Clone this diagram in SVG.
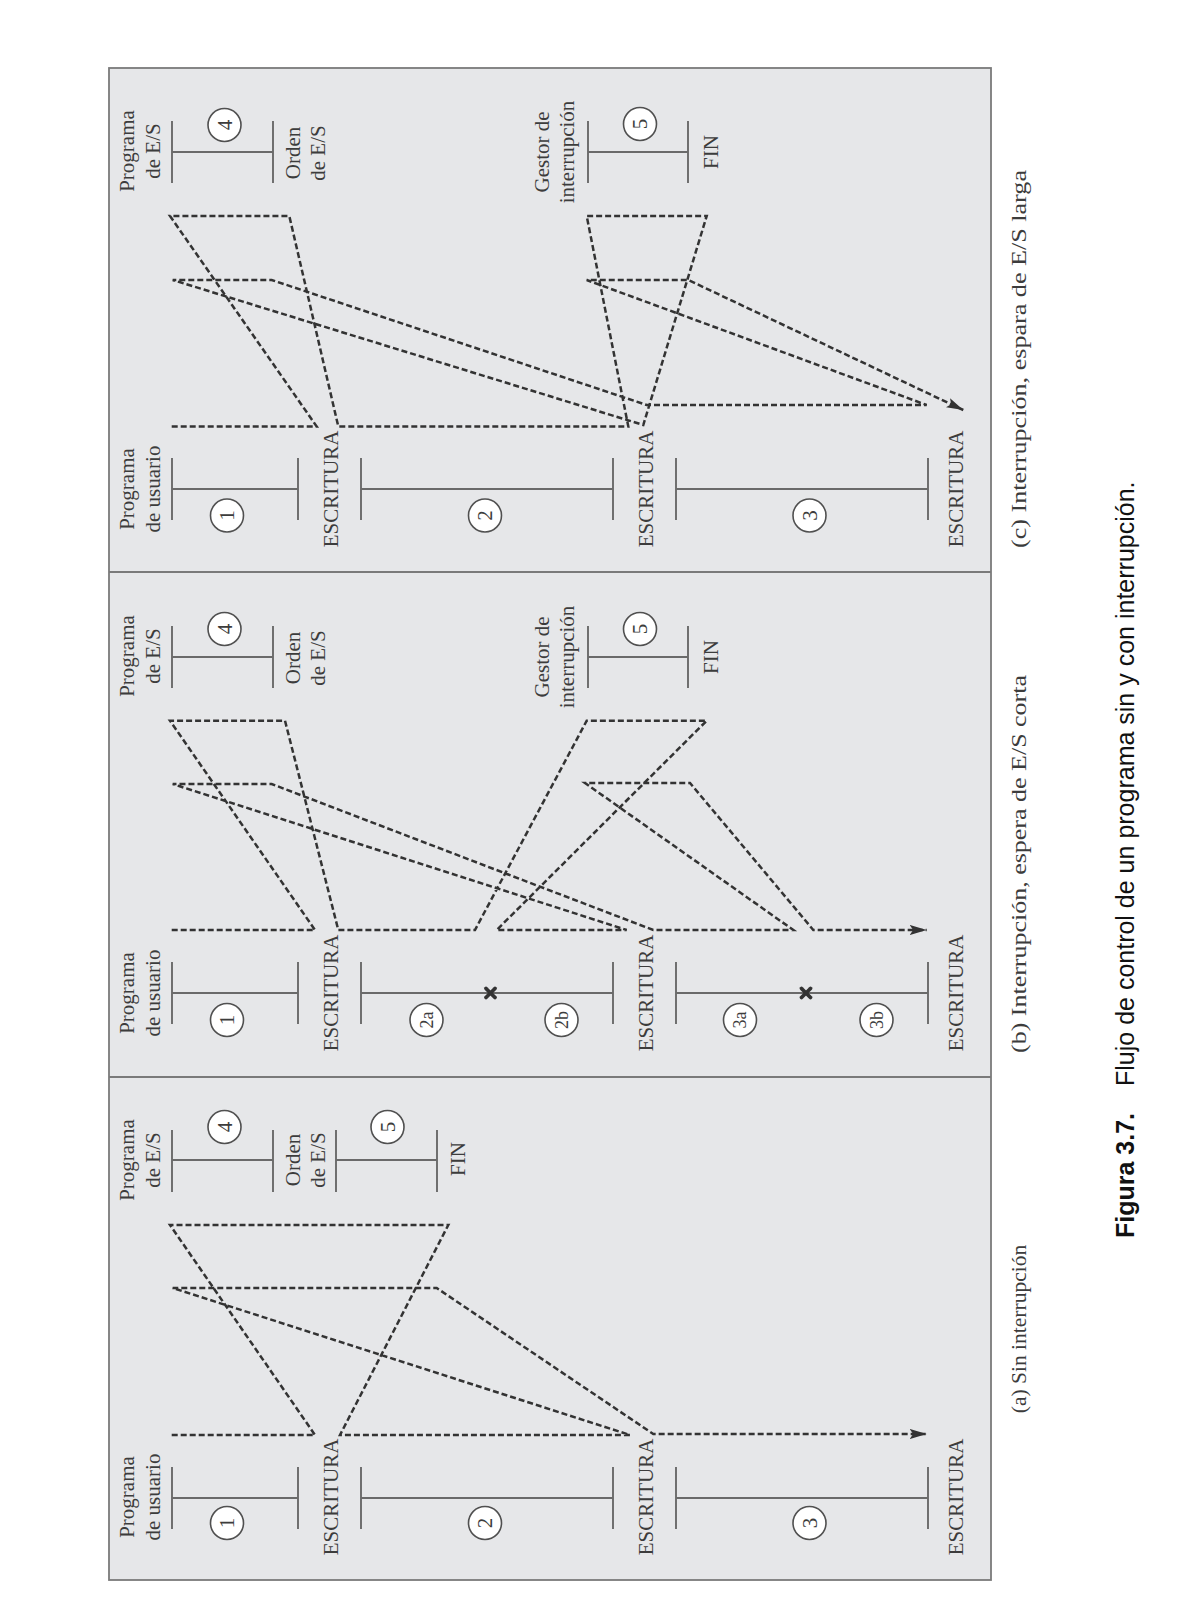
<svg xmlns="http://www.w3.org/2000/svg" width="1201" height="1600" viewBox="0 0 1201 1600">
<defs>
<style>
.frame{fill:#e6e7e9;stroke:#7a7a7a;stroke-width:1.8}
.div{stroke:#7a7a7a;stroke-width:1.8;fill:none}
.tl{stroke:#6a6a6a;stroke-width:1.9;fill:none}
.flow{stroke:#333;stroke-width:2.5;fill:none;stroke-dasharray:6 3;stroke-linejoin:miter}
.circ{fill:#fff;stroke:#505050;stroke-width:1.6}
.lbl{font-family:"Liberation Serif","Times New Roman",serif;font-size:21px;fill:#3c3c3c;text-anchor:middle}
.num{font-family:"Liberation Serif","Times New Roman",serif;font-size:21px;fill:#3c3c3c;text-anchor:middle;dominant-baseline:central}
.num2{font-family:"Liberation Serif","Times New Roman",serif;font-size:18px;fill:#3c3c3c;text-anchor:middle;dominant-baseline:central}
.cap{font-family:"Liberation Serif","Times New Roman",serif;font-size:21.5px;fill:#3c3c3c}
.fig{font-family:"Liberation Sans",Arial,sans-serif;font-size:25px;fill:#111}
.xm{stroke:#333;stroke-width:3.8;stroke-linecap:round}
</style>
<marker id="arr" markerUnits="userSpaceOnUse" markerWidth="18" markerHeight="12" refX="17" refY="6" orient="auto">
<path d="M0,1 L17,6 L0,11 L3.5,6 z" fill="#333"/>
</marker>
</defs>

<rect class="frame" x="109" y="68" width="882" height="1512"/>
<line class="div" x1="109" y1="572" x2="991" y2="572"/>
<line class="div" x1="109" y1="1077" x2="991" y2="1077"/>

<!-- ===== Panel (a) ===== -->
<g id="a-user1">
<path class="tl" d="M172 1467V1529M172 1498H298M298 1467V1529"/>
<circle class="circ" cx="227" cy="1523" r="16.5"/>
<text class="num" transform="translate(227,1523) rotate(-90)">1</text>
<text class="lbl" transform="translate(134,1497) rotate(-90)">Programa</text>
<text class="lbl" transform="translate(160,1497) rotate(-90)">de usuario</text>
<text class="lbl" transform="translate(338,1497) rotate(-90)">ESCRITURA</text>
</g>
<g id="a-user2">
<path class="tl" d="M361 1467V1529M361 1498H613M613 1467V1529"/>
<circle class="circ" cx="485" cy="1523" r="16.5"/>
<text class="num" transform="translate(485,1523) rotate(-90)">2</text>
<text class="lbl" transform="translate(653,1497) rotate(-90)">ESCRITURA</text>
</g>
<g id="a-user3">
<path class="tl" d="M676 1467V1529M676 1498H928M928 1467V1529"/>
<circle class="circ" cx="809.5" cy="1523" r="16.5"/>
<text class="num" transform="translate(809.5,1523) rotate(-90)">3</text>
<text class="lbl" transform="translate(963,1497) rotate(-90)">ESCRITURA</text>
</g>
<g id="a-io4">
<path class="tl" d="M172 1130V1192M172 1160H273M273 1130V1192"/>
<circle class="circ" cx="224.5" cy="1127" r="16.5"/>
<text class="num" transform="translate(224.5,1127) rotate(-90)">4</text>
<text class="lbl" transform="translate(134,1160) rotate(-90)">Programa</text>
<text class="lbl" transform="translate(160,1160) rotate(-90)">de E/S</text>
<text class="lbl" transform="translate(299.5,1160) rotate(-90)">Orden</text>
<text class="lbl" transform="translate(324.5,1160) rotate(-90)">de E/S</text>
</g>
<g id="a-io5">
<path class="tl" d="M336 1130V1192M336 1160H437M437 1130V1192"/>
<circle class="circ" cx="387.5" cy="1127" r="16.5"/>
<text class="num" transform="translate(387.5,1127) rotate(-90)">5</text>
<text class="lbl" transform="translate(465,1159) rotate(-90)">FIN</text>
</g>
<text class="cap" text-anchor="middle" transform="translate(1026,1329) rotate(-90)">(a) Sin interrupción</text>

<!-- ===== Panel (b) ===== -->
<g id="b-user1">
<path class="tl" d="M172 962V1024M172 993H298M298 962V1024"/>
<circle class="circ" cx="227" cy="1020" r="16.5"/>
<text class="num" transform="translate(227,1020) rotate(-90)">1</text>
<text class="lbl" transform="translate(134,993) rotate(-90)">Programa</text>
<text class="lbl" transform="translate(160,993) rotate(-90)">de usuario</text>
<text class="lbl" transform="translate(338,993) rotate(-90)">ESCRITURA</text>
</g>
<g id="b-user2">
<path class="tl" d="M361 962V1024M361 993H613M613 962V1024"/>
<g class="xm"><line x1="486" y1="988.5" x2="495" y2="997.5"/><line x1="486" y1="997.5" x2="495" y2="988.5"/></g>
<circle class="circ" cx="426.5" cy="1020" r="16.5"/>
<text class="num2" transform="translate(426.5,1020) rotate(-90)">2a</text>
<circle class="circ" cx="561.5" cy="1020" r="16.5"/>
<text class="num2" transform="translate(561.5,1020) rotate(-90)">2b</text>
<text class="lbl" transform="translate(653,993) rotate(-90)">ESCRITURA</text>
</g>
<g id="b-user3">
<path class="tl" d="M676 962V1024M676 993H928M928 962V1024"/>
<g class="xm"><line x1="801.5" y1="988.5" x2="810.5" y2="997.5"/><line x1="801.5" y1="997.5" x2="810.5" y2="988.5"/></g>
<circle class="circ" cx="740" cy="1020" r="16.5"/>
<text class="num2" transform="translate(740,1020) rotate(-90)">3a</text>
<circle class="circ" cx="876.5" cy="1020" r="16.5"/>
<text class="num2" transform="translate(876.5,1020) rotate(-90)">3b</text>
<text class="lbl" transform="translate(963,993) rotate(-90)">ESCRITURA</text>
</g>
<g id="b-io4">
<path class="tl" d="M172 626V688M172 657H273M273 626V688"/>
<circle class="circ" cx="224.5" cy="629" r="16.5"/>
<text class="num" transform="translate(224.5,629) rotate(-90)">4</text>
<text class="lbl" transform="translate(134,656) rotate(-90)">Programa</text>
<text class="lbl" transform="translate(160,656) rotate(-90)">de E/S</text>
<text class="lbl" transform="translate(299.5,658) rotate(-90)">Orden</text>
<text class="lbl" transform="translate(324.5,658) rotate(-90)">de E/S</text>
</g>
<g id="b-handler5">
<path class="tl" d="M588 626V688M588 657H688M688 626V688"/>
<circle class="circ" cx="640" cy="629" r="16.5"/>
<text class="num" transform="translate(640,629) rotate(-90)">5</text>
<text class="lbl" transform="translate(549,657) rotate(-90)">Gestor de</text>
<text class="lbl" transform="translate(573.5,657) rotate(-90)">interrupción</text>
<text class="lbl" transform="translate(718,657) rotate(-90)">FIN</text>
</g>
<text class="cap" text-anchor="start" textLength="378" lengthAdjust="spacingAndGlyphs" transform="translate(1026,1053) rotate(-90)">(b) Interrupción, espera de E/S corta</text>

<!-- ===== Panel (c) ===== -->
<g id="c-user1">
<path class="tl" d="M172 458V520M172 489H298M298 458V520"/>
<circle class="circ" cx="227" cy="515.5" r="16.5"/>
<text class="num" transform="translate(227,515.5) rotate(-90)">1</text>
<text class="lbl" transform="translate(134,489) rotate(-90)">Programa</text>
<text class="lbl" transform="translate(160,489) rotate(-90)">de usuario</text>
<text class="lbl" transform="translate(338,489) rotate(-90)">ESCRITURA</text>
</g>
<g id="c-user2">
<path class="tl" d="M361 458V520M361 489H613M613 458V520"/>
<circle class="circ" cx="485" cy="515.5" r="16.5"/>
<text class="num" transform="translate(485,515.5) rotate(-90)">2</text>
<text class="lbl" transform="translate(653,489) rotate(-90)">ESCRITURA</text>
</g>
<g id="c-user3">
<path class="tl" d="M676 458V520M676 489H928M928 458V520"/>
<circle class="circ" cx="809.5" cy="515.5" r="16.5"/>
<text class="num" transform="translate(809.5,515.5) rotate(-90)">3</text>
<text class="lbl" transform="translate(963,489) rotate(-90)">ESCRITURA</text>
</g>
<g id="c-io4">
<path class="tl" d="M172 121V183M172 152H273M273 121V183"/>
<circle class="circ" cx="224.5" cy="125" r="16.5"/>
<text class="num" transform="translate(224.5,125) rotate(-90)">4</text>
<text class="lbl" transform="translate(134,151) rotate(-90)">Programa</text>
<text class="lbl" transform="translate(160,151) rotate(-90)">de E/S</text>
<text class="lbl" transform="translate(299.5,153) rotate(-90)">Orden</text>
<text class="lbl" transform="translate(324.5,153) rotate(-90)">de E/S</text>
</g>
<g id="c-handler5">
<path class="tl" d="M588 121V183M588 152H688M688 121V183"/>
<circle class="circ" cx="640" cy="124" r="16.5"/>
<text class="num" transform="translate(640,124) rotate(-90)">5</text>
<text class="lbl" transform="translate(549,152) rotate(-90)">Gestor de</text>
<text class="lbl" transform="translate(573.5,152) rotate(-90)">interrupción</text>
<text class="lbl" transform="translate(718,152) rotate(-90)">FIN</text>
</g>
<text class="cap" text-anchor="start" textLength="378" lengthAdjust="spacingAndGlyphs" transform="translate(1026,548) rotate(-90)">(c) Interrupción, espara de E/S larga</text>

<!-- ===== Connectors ===== -->
<g id="connectors">
<path class="flow" marker-end="url(#arr)" d="M171.7 1435H315L170 1225H448.3L340 1435H630L172.7 1288H436.7L653.3 1434H926.7"/>
<path class="flow" marker-end="url(#arr)" d="M171.7 930H315L170 720.7H285L338.3 930H475L586.7 720.7H706.7L496.7 930H626.7L172.7 784H271.7L653.3 930H793.3L585 783H690L813.3 930H926.7"/>
<path class="flow" marker-end="url(#arr)" d="M171.7 426.5H316.7L170 216H289.3L338.3 426.5H628.3L586.7 216H706.7L643.3 425L172.7 280H271.7L646.7 405H926.7L586.7 280H688.3L963.3 410"/>
</g>

<!-- ===== Figure caption ===== -->
<g id="caption" transform="translate(1134,1238) rotate(-90)">
<text class="fig" x="0" y="0"><tspan font-weight="bold">Figura 3.7.</tspan><tspan x="152">Flujo de control de un programa sin y con interrupción.</tspan></text>
</g>
</svg>
